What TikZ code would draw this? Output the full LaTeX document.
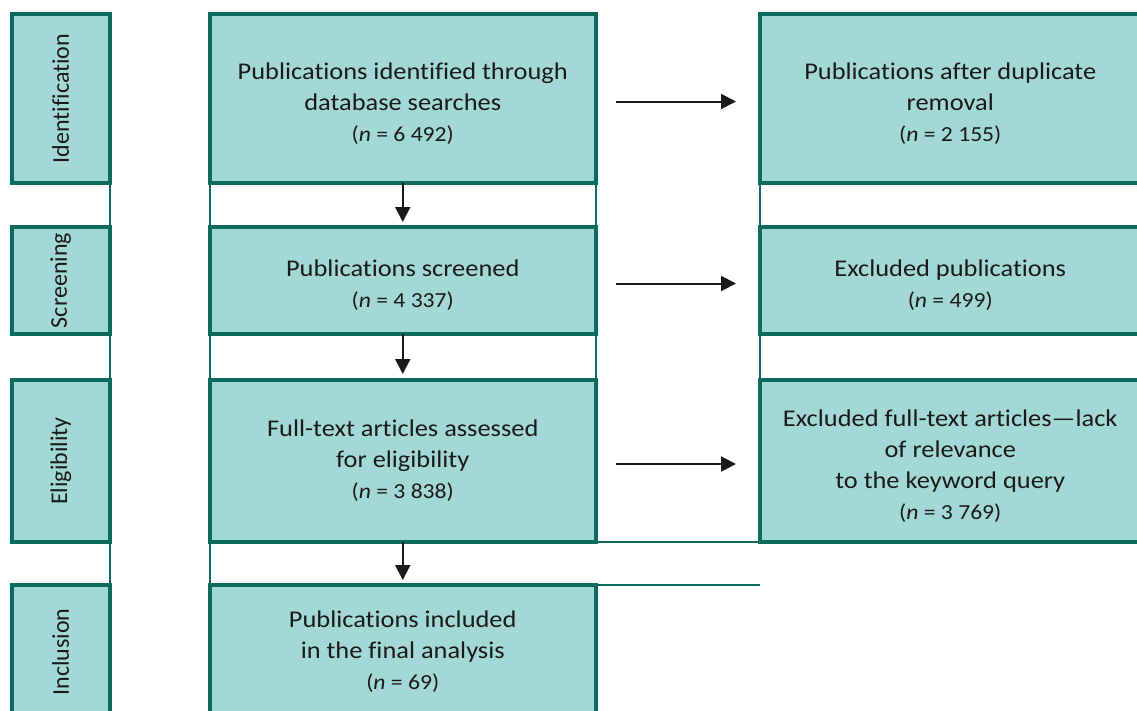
\documentclass[tikz,border=0pt]{standalone}
\usepackage{fontspec}
\setmainfont{Carlito}[FakeStretch=1.1, Ligatures=NoCommon]
\newfontfamily\labfont{Carlito}[Ligatures=NoCommon]
\usetikzlibrary{arrows.meta}
\definecolor{boxfill}{HTML}{A3D9D5}
\definecolor{boxline}{HTML}{0D6B5D}
\definecolor{txt}{HTML}{1A1A1A}
\newcommand\nline[1]{{\fontsize{21.5}{31}\selectfont(\textit{n} = #1)}}
\newcommand\tstrut{\rule{0pt}{26pt}}
\tikzset{
  stagebox/.style={draw=boxline, fill=boxfill, line width=4pt, inner sep=0pt, outer sep=0pt,
    align=center, text=txt, font=\fontsize{24}{31}\selectfont},
  labbox/.style={stagebox, minimum width=98.5pt},
  midbox/.style={stagebox, minimum width=386.5pt},
  rightbox/.style={stagebox, minimum width=381.5pt},
  gridline/.style={draw=boxline, line width=2pt},
  arr/.style={draw=txt, line width=2pt, -{Triangle[length=15pt,width=15pt]}},
}
\begin{document}
\begin{tikzpicture}[x=1pt,y=-1pt]
\useasboundingbox (0,0) rectangle (1137,710);
\clip (0,0) rectangle (1137,710);
% labels
\node[labbox, minimum height=169pt] (lab1) at (60.75,98.5) {\labfont\rotatebox{90}{Identification}};
\node[labbox, minimum height=107pt] (lab2) at (60.75,280.5) {\labfont\rotatebox{90}{Screening}};
\node[labbox, minimum height=162pt] (lab3) at (60.75,461) {\labfont\rotatebox{90}{Eligibility}};
\node[labbox, minimum height=134pt] (lab4) at (60.75,652) {\labfont\rotatebox{90}{Inclusion}};
% middle column
\node[midbox, minimum height=169pt] (mid1) at (402.75,98.5) {\tstrut Publications identified through\\database searches\\\nline{6 492}};
\node[midbox, minimum height=107pt] (mid2) at (402.75,280.5) {\tstrut Publications screened\\\nline{4 337}};
\node[midbox, minimum height=162pt] (mid3) at (402.75,461) {Full-text articles assessed\\for eligibility\\\nline{3 838}};
\node[midbox, minimum height=134pt] (mid4) at (402.75,652) {Publications included\\in the final analysis\\\nline{69}};
% right column
\node[rightbox, minimum height=169pt] (r1) at (950.25,98.5) {\tstrut Publications after duplicate\\removal\\\nline{2 155}};
\node[rightbox, minimum height=107pt] (r2) at (950.25,280.5) {\tstrut Excluded publications\\\nline{499}};
\node[rightbox, minimum height=162pt] (r3) at (950.25,461) {\tstrut Excluded full-text articles---lack\\of relevance\\to the keyword query\\\nline{3 769}};
\coordinate (c4) at (759.5,585);
% grid lines
\draw[gridline] (lab1.south east) -- (lab2.north east);
\draw[gridline] (lab2.south east) -- (lab3.north east);
\draw[gridline] (lab3.south east) -- (lab4.north east);
\draw[gridline] (mid1.south west) -- (mid2.north west);
\draw[gridline] (mid2.south west) -- (mid3.north west);
\draw[gridline] (mid3.south west) -- (mid4.north west);
\draw[gridline] (mid1.south east) -- (mid2.north east);
\draw[gridline] (mid2.south east) -- (mid3.north east);
\draw[gridline] (r1.south west) -- (r2.north west);
\draw[gridline] (r2.south west) -- (r3.north west);
\draw[gridline] (mid3.south east) -- (r3.south west);
\draw[gridline] (mid4.north east) -- (c4);
% arrows
\draw[arr, shorten <=20pt, shorten >=23.5pt] ([yshift=-3pt]mid1.east) -- ([yshift=-3pt]r1.west);
\draw[arr, shorten <=20pt, shorten >=23.5pt] ([yshift=-3pt]mid2.east) -- ([yshift=-3pt]r2.west);
\draw[arr, shorten <=20pt, shorten >=23.5pt] ([yshift=-3pt]mid3.east) -- ([yshift=-3pt]r3.west);
\draw[arr, shorten >=5pt] (mid1.south) -- (mid2.north);
\draw[arr, shorten >=6pt] (mid2.south) -- (mid3.north);
\draw[arr, shorten >=5pt] (mid3.south) -- (mid4.north);
\end{tikzpicture}
\end{document}
